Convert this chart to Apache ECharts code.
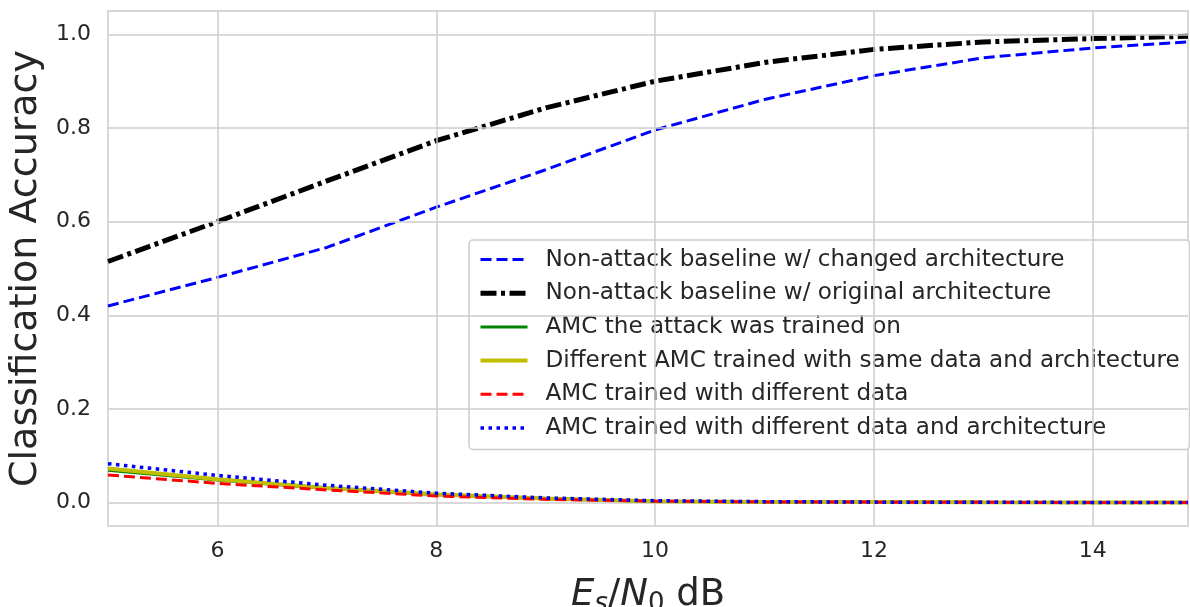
<!DOCTYPE html>
<html>
<head>
<meta charset="utf-8">
<script src="https://cdn.jsdelivr.net/npm/echarts@6/dist/echarts.min.js"></script>
<style>
html,body{margin:0;padding:0;background:#fff;}
#chart{width:1190px;height:607px;}
</style>
</head>
<body>
<div id="chart"></div>
<script>
// ---- data ----
const xValues = [5, 6, 7, 8, 9, 10, 11, 12, 13, 14, 14.87];
const baselineChanged = [0.42, 0.481, 0.545, 0.631, 0.711, 0.796, 0.861, 0.912, 0.950, 0.971, 0.984];
const baselineOriginal = [0.515, 0.600, 0.687, 0.773, 0.843, 0.900, 0.940, 0.968, 0.984, 0.991, 0.996];
const amcAttacked = [0.069, 0.048, 0.030, 0.017, 0.008, 0.003, 0.0015, 0.001, 0.0005, 0.0003, 0.0002];
const amcSameData = [0.073, 0.050, 0.031, 0.018, 0.0085, 0.003, 0.0015, 0.001, 0.0005, 0.0003, 0.0002];
const amcDiffData = [0.059, 0.041, 0.027, 0.014, 0.007, 0.003, 0.0015, 0.001, 0.0005, 0.0003, 0.0002];
const amcDiffDataArch = [0.083, 0.058, 0.037, 0.020, 0.010, 0.004, 0.002, 0.001, 0.0006, 0.0004, 0.0003];
const seriesNames = [
  'Non-attack baseline w/ changed architecture',
  'Non-attack baseline w/ original architecture',
  'AMC the attack was trained on',
  'Different AMC trained with same data and architecture',
  'AMC trained with different data',
  'AMC trained with different data and architecture'
];
const xTicks = [6, 8, 10, 12, 14];
const yTicks = [0.0, 0.2, 0.4, 0.6, 0.8, 1.0];
const xRange = [5, 14.87];
const yRange = [-0.05, 1.05];

const pairs = arr => xValues.map((x, i) => [x, arr[i]]);
const FONT = 'DejaVu Sans';
const TXT = '#262626';

const styles = [
  {color: '#0000ff', width: 3, type: [11, 5]},
  {color: '#000000', width: 5, type: [16, 4.5, 4, 4.5]},
  {color: '#008000', width: 3, type: 'solid'},
  {color: '#bfbf00', width: 4, type: 'solid'},
  {color: '#ff0000', width: 3, type: [11, 5]},
  {color: '#0000ff', width: 3.5, type: [3.5, 4.5]}
];
const datas = [baselineChanged, baselineOriginal, amcAttacked, amcSameData, amcDiffData, amcDiffDataArch];

const series = datas.map((d, i) => ({
  name: seriesNames[i],
  type: 'line',
  data: pairs(d),
  symbol: 'none',
  showSymbol: false,
  z: 3 + i,
  color: styles[i].color,
  lineStyle: {color: styles[i].color, width: styles[i].width, type: styles[i].type, cap: 'butt'},
  itemStyle: {color: styles[i].color},
  animation: false
}));

// grid lines drawn as markLines at the tick values
series.push({
  name: '__grid',
  type: 'line',
  data: [],
  z: 1,
  silent: true,
  animation: false,
  markLine: {
    silent: true,
    symbol: 'none',
    animation: false,
    label: {show: false},
    lineStyle: {color: '#cccccc', width: 1.5, type: 'solid'},
    emphasis: {disabled: true},
    data: xTicks.map(v => ({xAxis: v})).concat(yTicks.map(v => ({yAxis: v})))
  }
});

const chart = echarts.init(document.getElementById('chart'), null, {renderer: 'canvas'});
chart.setOption({
  backgroundColor: '#ffffff',
  animation: false,
  grid: {
    left: 108, right: 2, top: 11, bottom: 81,
    outerBoundsMode: 'none',
    containLabel: false,
    show: true, borderColor: '#cccccc', borderWidth: 1.5, backgroundColor: '#ffffff'
  },
  legend: {
    data: seriesNames,
    orient: 'vertical',
    left: 469, top: 240,
    padding: [8, 10, 10, 9],
    itemGap: 10.7,
    itemWidth: 47,
    itemHeight: 23,
    itemStyle: {opacity: 0},
    lineStyle: {width: 'inherit', type: 'inherit', color: 'inherit'},
    backgroundColor: 'rgba(255,255,255,0.85)',
    borderColor: '#cccccc',
    borderWidth: 1.5,
    borderRadius: 4,
    textStyle: {fontFamily: FONT, fontSize: 23.1, color: TXT, padding: [0, 0, 0, 13]},
    selectedMode: false
  },
  xAxis: {
    type: 'value',
    min: xRange[0], max: xRange[1], interval: 1,
    axisLine: {show: false}, axisTick: {show: false}, splitLine: {show: false},
    axisLabel: {
      fontFamily: FONT, fontSize: 22, color: TXT, margin: 14,
      showMaxLabel: false, showMinLabel: false,
      formatter: v => xTicks.some(t => Math.abs(t - v) < 1e-6) ? String(Math.round(v)) : ''
    },
    name: '{i|E}{sub|s}{n|/}{i|N}{sub0|0}{n| dB}',
    nameLocation: 'middle',
    nameGap: 48,
    nameTextStyle: {
      fontFamily: FONT, fontSize: 37, color: TXT,
      rich: {
        i: {fontFamily: FONT, fontStyle: 'italic', fontSize: 37, color: TXT},
        n: {fontFamily: FONT, fontSize: 37, color: TXT},
        sub: {fontFamily: FONT, fontStyle: 'italic', fontSize: 26, color: TXT, verticalAlign: 'bottom', padding: [17, 0, 0, 0]},
        sub0: {fontFamily: FONT, fontSize: 26, color: TXT, verticalAlign: 'bottom', padding: [17, 0, 0, 0]}
      }
    }
  },
  yAxis: {
    type: 'value',
    min: yRange[0], max: yRange[1], interval: 0.05,
    axisLine: {show: false}, axisTick: {show: false}, splitLine: {show: false},
    axisLabel: {
      fontFamily: FONT, fontSize: 22, color: TXT, margin: 17,
      formatter: v => {
        const t = yTicks.find(t => Math.abs(t - v) < 1e-6);
        return t === undefined ? '' : t.toFixed(1);
      }
    },
    name: 'Classification Accuracy',
    nameLocation: 'middle',
    nameGap: 56,
    nameTextStyle: {fontFamily: FONT, fontSize: 38, color: TXT}
  },
  series: series
});
</script>
</body>
</html>
